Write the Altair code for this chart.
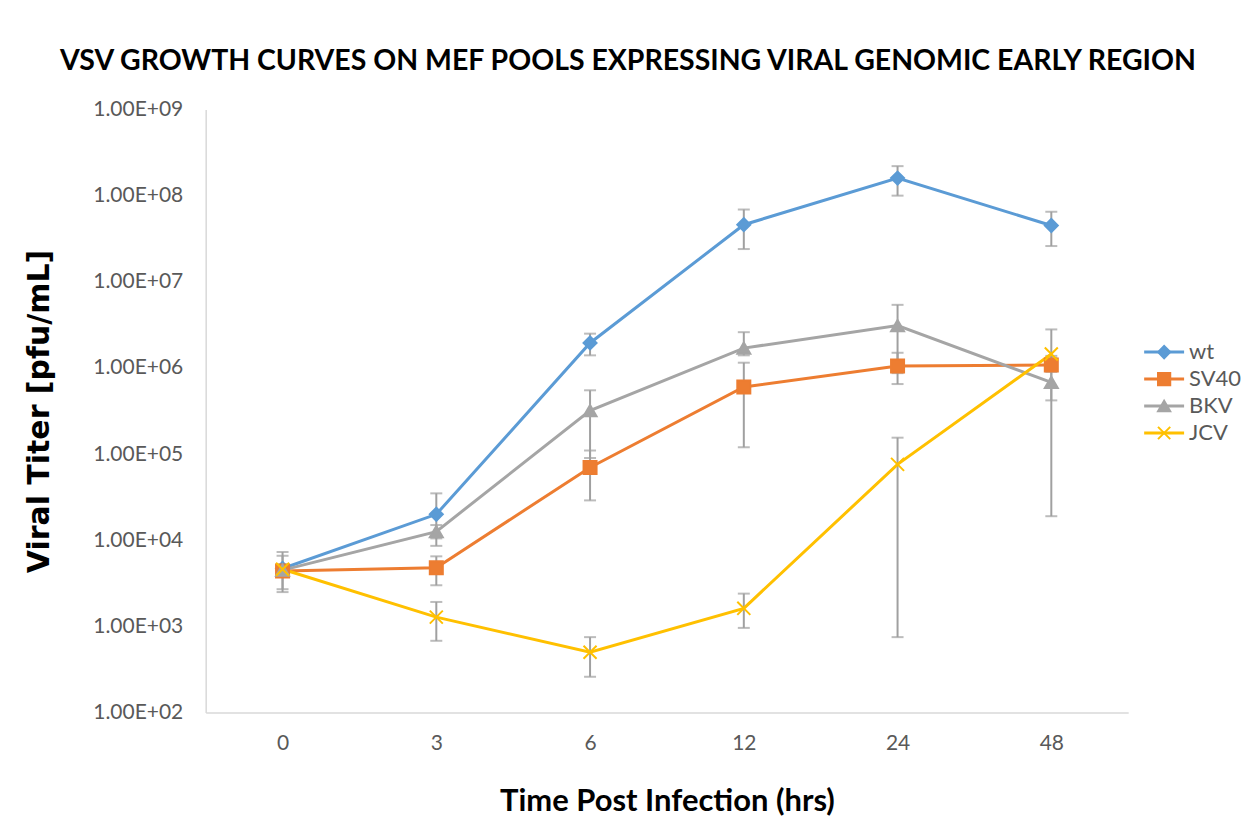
import altair as alt
import pandas as pd

# ---- data ----
times = ["0", "3", "6", "12", "24", "48"]
series = ["wt", "SV40", "BKV", "JCV"]
colors = ["#5B9BD5", "#ED7D31", "#A5A5A5", "#FFC000"]
shapes = ["diamond", "square", "triangle-up", "M-1,-1L1,1M-1,1L1,-1"]

wt_val = [4.7e3, 2.0e4, 1.95e6, 4.6e7, 1.6e8, 4.5e7]
wt_lo = [2.5e3, 8.6e3, 1.4e6, 2.4e7, 1.0e8, 2.6e7]
wt_hi = [7.3e3, 3.5e4, 2.5e6, 6.9e7, 2.2e8, 6.5e7]

sv40_val = [4.4e3, 4.8e3, 7.0e4, 6.0e5, 1.05e6, 1.08e6]
sv40_lo = [3.8e3, 3.0e3, 2.9e4, 1.2e5, 6.5e5, 9.0e5]
sv40_hi = [5.0e3, 6.5e3, 1.1e5, 1.15e6, 1.5e6, 1.3e6]

bkv_val = [4.5e3, 1.26e4, 3.2e5, 1.7e6, 3.1e6, 6.8e5]
bkv_lo = [2.7e3, 1.05e4, 9.0e4, 1.4e6, 8.7e5, 1.9e4]
bkv_hi = [6.6e3, 1.5e4, 5.5e5, 2.6e6, 5.4e6, 1.38e6]

jcv_val = [4.6e3, 1.28e3, 5.0e2, 1.62e3, 7.6e4, 1.45e6]
jcv_lo = [4.0e3, 6.8e2, 2.6e2, 9.6e2, 7.5e2, 4.2e5]
jcv_hi = [5.2e3, 1.92e3, 7.5e2, 2.4e3, 1.55e5, 2.8e6]

y_ticks = [1e2, 1e3, 1e4, 1e5, 1e6, 1e7, 1e8, 1e9]

title_text = "VSV GROWTH CURVES ON MEF POOLS EXPRESSING VIRAL GENOMIC EARLY REGION"
x_title = "Time Post Infection (hrs)"
y_title = "Viral Titer [pfu/mL]"

# ---- tables ----
table = {
    "wt": (wt_val, wt_lo, wt_hi),
    "SV40": (sv40_val, sv40_lo, sv40_hi),
    "BKV": (bkv_val, bkv_lo, bkv_hi),
    "JCV": (jcv_val, jcv_lo, jcv_hi),
}
rows = []
for s in series:
    v, lo, hi = table[s]
    for t, a, b, c in zip(times, v, lo, hi):
        rows.append({"series": s, "time": t, "value": a, "lo": b, "hi": c})
df = pd.DataFrame(rows)
leg_df = pd.DataFrame({"series": series, "row": list(range(len(series)))})

FONT = "Lato, 'Open Sans', sans-serif"
YFONT = "'DejaVu Sans', Lato, sans-serif"
GRAY_TXT = "#595959"
ERR = "#A0A0A0"
PLOT_W, PLOT_H = 924, 604

color_scale = alt.Scale(domain=series, range=colors)
shape_scale = alt.Scale(domain=series, range=shapes)

x_enc = alt.X(
    "time:O",
    sort=times,
    scale=alt.Scale(type="point", padding=0.5),
    axis=alt.Axis(
        title=x_title, labelAngle=0, ticks=False, grid=False,
        labelFont=FONT, labelFontSize=21, labelColor=GRAY_TXT, labelPadding=20,
        titleFont=FONT, titleFontSize=31, titleFontWeight="bold", titleColor="black",
        titlePadding=33, domainColor="#D9D9D9", domainWidth=1.5,
    ),
)

label_expr = "'1.00E+0' + round(log(datum.value) / LN10)"


def y_enc(field):
    return alt.Y(
        field + ":Q",
        scale=alt.Scale(type="log", domain=[1e2, 1e9], nice=False),
        axis=alt.Axis(
            title=y_title, values=y_ticks, labelExpr=label_expr, ticks=False, grid=False,
            labelFont=FONT, labelFontSize=21, labelColor=GRAY_TXT, labelPadding=23,
            titleFont=YFONT, titleFontSize=30, titleFontWeight="bold", titleColor="black",
            titlePadding=38, domainColor="#D9D9D9", domainWidth=1.5,
        ),
    )


base = alt.Chart(df)

err_rule = base.mark_rule(color=ERR, strokeWidth=2).encode(
    x=x_enc, y=y_enc("lo"), y2="hi:Q"
)
cap_lo = base.mark_tick(color=ERR, thickness=2, size=12).encode(x=x_enc, y=y_enc("lo"))
cap_hi = base.mark_tick(color=ERR, thickness=2, size=12).encode(x=x_enc, y=y_enc("hi"))

lines = base.mark_line(strokeWidth=3).encode(
    x=x_enc,
    y=y_enc("value"),
    color=alt.Color("series:N", scale=color_scale, legend=None),
)

points = base.mark_point(filled=True, size=170, strokeWidth=2, opacity=1).encode(
    x=x_enc,
    y=y_enc("value"),
    color=alt.Color("series:N", scale=color_scale, legend=None),
    stroke=alt.Stroke("series:N", scale=color_scale, legend=None),
    shape=alt.Shape("series:N", scale=shape_scale, legend=None),
)

main = alt.layer(err_rule, cap_lo, cap_hi, lines, points).properties(width=PLOT_W, height=PLOT_H)

# ---- legend panel (line + marker + label) ----
leg_y = alt.Y("row:Q", scale=alt.Scale(domain=[-9.0, 13.37], reverse=True, nice=False, zero=False), axis=None)
leg_base = alt.Chart(leg_df)
leg_line = leg_base.mark_rule(strokeWidth=3).encode(
    x=alt.value(0), x2=alt.value(40), y=leg_y,
    color=alt.Color("series:N", scale=color_scale, legend=None),
)
leg_pt = leg_base.mark_point(filled=True, size=150, strokeWidth=2, opacity=1).encode(
    x=alt.value(20), y=leg_y,
    color=alt.Color("series:N", scale=color_scale, legend=None),
    stroke=alt.Stroke("series:N", scale=color_scale, legend=None),
    shape=alt.Shape("series:N", scale=shape_scale, legend=None),
)
leg_txt = leg_base.mark_text(align="left", baseline="middle", font=FONT, fontSize=22, color=GRAY_TXT).encode(
    x=alt.value(45), y=leg_y, text="series:N"
)
legend_panel = alt.layer(leg_line, leg_pt, leg_txt).properties(width=60, height=PLOT_H)

chart = (
    alt.hconcat(main, legend_panel, spacing=14)
    .resolve_scale(y="independent", color="shared", shape="shared")
    .properties(
        title=alt.TitleParams(
            title_text, font=FONT, fontSize=28.5, fontWeight="bold", color="black",
            anchor="middle", offset=23, dx=-5,
        ),
        padding={"left": 16, "top": 38, "right": 0, "bottom": 5},
        background="white",
    )
    .configure_view(stroke=None)
)

chart.save("out.html", embed_options={"renderer": "svg", "actions": False})
